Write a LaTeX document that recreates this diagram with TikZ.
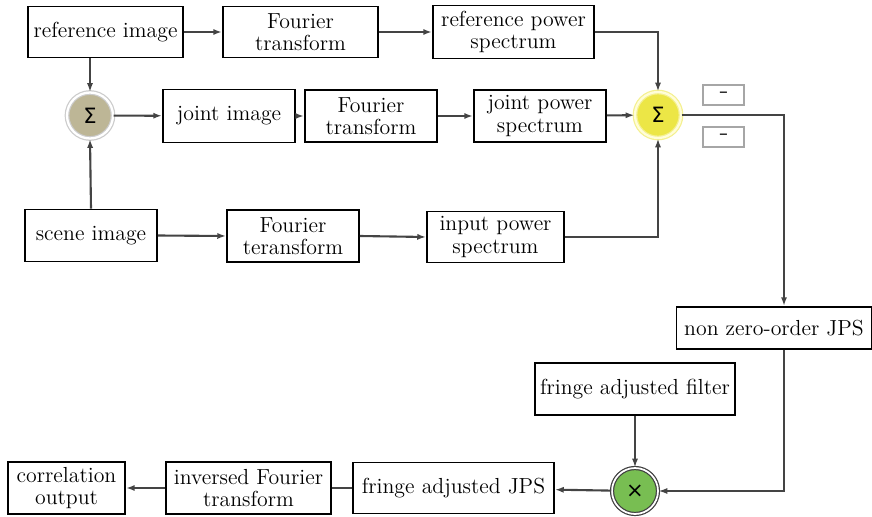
\documentclass[tikz,border=0pt]{standalone}
\usepackage{fontspec}
\newfontfamily\symfont{DejaVu Sans}
\usetikzlibrary{arrows.meta}
\definecolor{sumtan}{RGB}{189,182,150}
\definecolor{sumyellow}{RGB}{236,230,70}
\definecolor{multgreen}{RGB}{120,190,82}
\definecolor{linegray}{RGB}{68,68,68}

\begin{document}
\begin{tikzpicture}[x=0.02cm, y=-0.02cm,
  box/.style={draw, rectangle, line width=1.1pt, minimum width=2.64cm, minimum height=1.04cm, align=center, inner sep=1pt, font=\fontsize{12.4}{12.8}\selectfont},
  sumnode/.style={circle, minimum size=0.92cm, inner sep=0pt, line width=0.7pt, double distance=1.3pt, font=\symfont\fontsize{12}{12}\selectfont},
  signbox/.style={draw=gray!70, rectangle, line width=0.6pt, minimum width=0.82cm, minimum height=0.4cm, inner sep=0pt, font=\symfont\normalsize},
  line/.style={-{Latex[length=5pt,width=3.5pt]}, line width=1.2pt, linegray},
  plain/.style={-, line width=1.2pt, linegray}
]
\useasboundingbox (0,0) rectangle (872,517);

% top row
\node[box, minimum width=3.1cm, minimum height=1.02cm] (ref) at (105.5,32) {reference image};
\node[box, minimum width=3.1cm, minimum height=1.02cm] (ft1) at (300.5,32) {Fourier\\transform};
\node[box, minimum width=3.22cm, minimum height=1.06cm] (rps) at (513.5,32) {reference power\\spectrum};

% middle row
\node[sumnode, fill=sumtan, draw=gray!40, double=white] (sum1) at (90,115.5) {Σ};
\node[box, minimum height=1.06cm] (joint) at (229,116) {joint image};
\node[box] (ft2) at (371,116) {Fourier\\transform};
\node[box] (jps) at (540,116) {joint power\\spectrum};
\node[sumnode, fill=sumyellow, draw=sumyellow!60!white, double=white!85!yellow] (sum2) at (658,115) {Σ};
\node[signbox] (minA) at (723.5,95) {–};
\node[signbox] (minB) at (723.5,137) {–};

% scene row
\node[box] (scene) at (91,235.5) {scene image};
\node[box] (ft3) at (293,236) {Fourier\\teransform};
\node[box, minimum width=2.74cm, minimum height=1.02cm] (ips) at (495.5,237) {input power\\spectrum};

% output chain
\node[box, minimum width=3.9cm, minimum height=0.84cm] (nz) at (774,328) {non zero-order JPS};
\node[box, minimum width=4cm] (faf) at (635,389) {fringe adjusted filter};
\node[sumnode, fill=multgreen, draw=black!75, double=white, double distance=1pt] (mult) at (635,491) {×};
\node[box, minimum width=4.02cm, minimum height=1.02cm] (fjps) at (453.5,488) {fringe adjusted JPS};
\node[box, minimum width=3.3cm] (ift) at (248.5,488) {inversed Fourier\\transform};
\node[box, minimum width=2.34cm] (corr) at (66.5,488) {correlation\\output};

\draw[line] (ref) -- (ft1);
\draw[line] (ft1) -- (rps);
\draw[line] (sum1.north |- ref.south) -- (sum1.north);
\draw[line] (scene.north) -- (sum1.south);
\draw[line] (sum1) -- (joint);
\draw[line] (joint) -- (ft2);
\draw[line] (ft2) -- (jps);
\draw[line] (jps) -- (sum2);
\draw[line] (rps.east) -| (sum2.north);
\draw[line] (scene.east) -- (ft3.west);
\draw[line] (ft3.east) -- (ips.west);
\draw[line] (ips.east) -| (sum2.south);
\draw[line] (sum2.east) -| ([xshift=0.2cm]nz.north);
\draw[line] ([xshift=0.2cm]nz.south) |- (mult.east);
\draw[line] (faf) -- (mult);
\draw[line] (mult) -- (fjps);
\draw[plain] (fjps) -- (ift);
\draw[line] (ift) -- (corr);
\end{tikzpicture}
\end{document}
